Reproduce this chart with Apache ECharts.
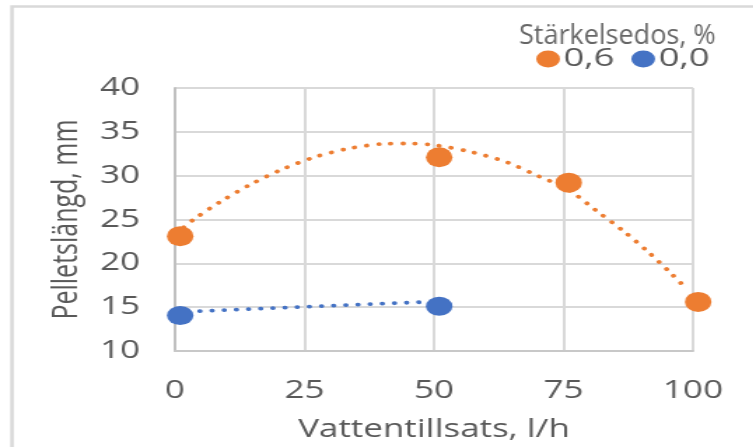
<!DOCTYPE html>
<html>
<head>
<meta charset="utf-8">
<script src="https://cdn.jsdelivr.net/npm/echarts@6/dist/echarts.min.js"></script>
<style>
html,body{margin:0;padding:0;background:#fff;overflow:hidden;}
#chart{width:538px;height:447px;transform:scaleX(1.4);transform-origin:0 0;}
</style>
</head>
<body>
<div id="chart"></div>
<script>
// Data
const legendTitle = 'Stärkelsedos, %';
const seriesNames = ['0,6', '0,0'];
const xAxisName = 'Vattentillsats, l/h';
const yAxisName = 'Pelletslängd, mm';
const xTicks = [0, 25, 50, 75, 100];
const yTicks = [10, 15, 20, 25, 30, 35, 40];

// Measured points
const orangeX = [1, 51, 76, 101];
const orangeY = [23.1, 32.1, 29.2, 15.6];
const blueX = [1, 51];
const blueY = [14.05, 15.1];

// Dotted trendlines
const orangeTrendX = [1.7, 3.5, 8.9, 14.6, 20.6, 27.1, 33.6, 40.5, 45.4, 50.2, 57.3, 64.0, 70.1, 75.8, 81.4, 86.5, 91.3, 95.8, 98.8];
const orangeTrendY = [24.1, 24.96, 27.08, 29.0, 30.7, 32.14, 33.1, 33.64, 33.67, 33.48, 32.69, 31.55, 29.96, 28.45, 25.98, 23.71, 21.33, 18.83, 17.08];
const blueTrendX = [4.8, 47.4];
const blueTrendY = [14.55, 15.57];

const ORANGE = '#ED7D31';
const BLUE = '#4472C4';
const TXT = '#595959';
const FONT = 'Open Sans';
const S = 1.4;

function pairs(xs, ys) { return xs.map((x, i) => [x, ys[i]]); }

const chart = echarts.init(document.getElementById('chart'), null, {renderer: 'canvas'});
const ellipse = 'path://M50,0A50,50,0,1,1,50,100A50,50,0,1,1,50,0Z';

chart.setOption({
  animation: false,
  backgroundColor: '#fff',
  textStyle: {fontFamily: FONT},
  grid: {left: 125, right: 43, top: 88, bottom: 94, containLabel: false},
  graphic: [
    {type: 'rect', shape: {x: 12 / S, y: 6.5, width: 1000, height: 1000},
     style: {fill: 'none', stroke: '#d9d9d9', lineWidth: 2.5}, z: -1, silent: true},
    {type: 'text', x: 519 / S, y: 23, scaleX: 1 / S, scaleY: 1,
     style: {text: legendTitle, font: '27px "Open Sans"', fill: '#666666'}, z: 10}
  ],
  legend: {
    data: seriesNames,
    left: 378, top: 41,
    itemWidth: 18, itemHeight: 17, itemGap: 12,
    icon: ellipse,
    textStyle: {fontSize: 26, color: TXT, fontFamily: FONT, padding: [0, 0, 0, -3]}
  },
  xAxis: {
    type: 'value', min: xTicks[0], max: xTicks[xTicks.length - 1], interval: 25,
    name: xAxisName, nameLocation: 'middle', nameGap: 66,
    nameTextStyle: {fontSize: 25, color: TXT, fontFamily: FONT},
    axisLine: {show: true, lineStyle: {color: '#c8c8c8', width: 2}},
    axisTick: {show: false},
    axisLabel: {fontSize: 25, color: TXT, fontFamily: FONT, margin: 27},
    splitLine: {show: true, lineStyle: {color: '#d9d9d9', width: 2}}
  },
  yAxis: {
    type: 'value', min: yTicks[0], max: yTicks[yTicks.length - 1], interval: 5,
    name: yAxisName, nameLocation: 'middle', nameGap: 64, nameRotate: 90,
    nameTextStyle: {fontSize: 25, color: TXT, fontFamily: FONT},
    axisLine: {show: true, lineStyle: {color: '#c0c0c0', width: 2}},
    axisTick: {show: false},
    axisLabel: {fontSize: 25, color: TXT, fontFamily: FONT, margin: 25},
    splitLine: {show: true, lineStyle: {color: '#d9d9d9', width: 2}}
  },
  series: [
    {name: seriesNames[0], type: 'scatter', data: pairs(orangeX, orangeY), symbol: 'circle',
     symbolSize: [19, 20], itemStyle: {color: ORANGE, opacity: 1}, clip: false, z: 5},
    {name: seriesNames[1], type: 'scatter', data: pairs(blueX, blueY), symbol: 'circle',
     symbolSize: [19, 19], itemStyle: {color: BLUE, opacity: 1}, clip: false, z: 5},
    {name: 'trend-0,6', type: 'line', data: pairs(orangeTrendX, orangeTrendY), smooth: 0.3,
     showSymbol: false, symbol: 'none', clip: false,
     lineStyle: {color: ORANGE, width: 3.8, type: [0.1, 8.6], cap: 'round'}, z: 3},
    {name: 'trend-0,0', type: 'line', data: pairs(blueTrendX, blueTrendY),
     showSymbol: false, symbol: 'none', clip: false,
     lineStyle: {color: BLUE, width: 3.8, type: [0.1, 8.6], cap: 'round'}, z: 3}
  ]
});
</script>
</body>
</html>
